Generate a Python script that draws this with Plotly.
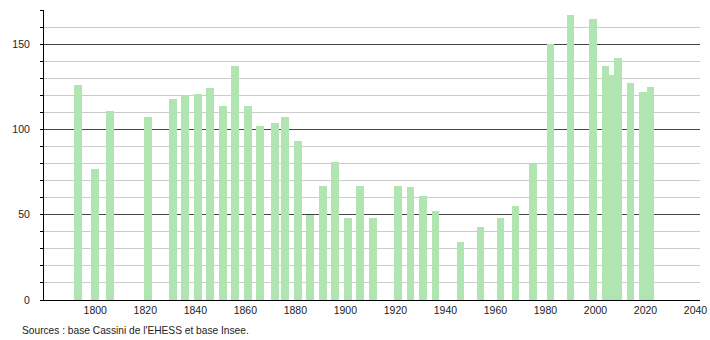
import plotly.graph_objects as go

years = [1793, 1800, 1806, 1821, 1831, 1836, 1841, 1846, 1851, 1856,
         1861, 1866, 1872, 1876, 1881, 1886, 1891, 1896, 1901, 1906,
         1911, 1921, 1926, 1931, 1936, 1946, 1954, 1962, 1968, 1975,
         1982, 1990, 1999, 2004, 2006, 2009, 2014, 2019, 2022]
population = [126, 77, 111, 107, 118, 120, 121, 124, 114, 137,
              114, 102, 104, 107, 93, 50, 67, 81, 48, 67,
              48, 67, 66, 61, 52, 34, 43, 48, 55, 80,
              150, 167, 165, 137, 132, 142, 127, 122, 125]
x_ticks = [1800, 1820, 1840, 1860, 1880, 1900, 1920, 1940, 1960, 1980, 2000, 2020, 2040]
y_ticks = [0, 50, 100, 150]
source_text = "Sources : base Cassini de l'EHESS et base Insee."

# shorter bars drawn first so taller neighbours sit on top
order = sorted(range(len(years)), key=lambda i: population[i])
xs = [years[i] for i in order]
ys = [population[i] for i in order]

fig = go.Figure(go.Bar(
    x=xs, y=ys, width=3.1,
    marker=dict(color="rgb(176,228,176)", line=dict(width=0)),
    hoverinfo="x+y",
))

font = "Liberation Sans, Arial, sans-serif"
fig.update_layout(
    width=710, height=340,
    margin=dict(l=44, r=10, t=10, b=40, autoexpand=False),
    paper_bgcolor="white", plot_bgcolor="white",
    showlegend=False,
    bargap=0,
    font=dict(family=font, size=10.5, color="#222"),
    xaxis=dict(
        range=[1779.5, 2041.8],
        tickvals=x_ticks,
        automargin=False,
        showgrid=False, zeroline=False,
        showline=True, linecolor="black", linewidth=1,
        ticks="", tickfont=dict(size=10.5, color="#222"),
    ),
    yaxis=dict(
        range=[0, 170],
        tickvals=y_ticks,
        automargin=False,
        showgrid=True, gridcolor="#444", gridwidth=1,
        zeroline=False,
        showline=True, linecolor="black", linewidth=1,
        ticks="outside", ticklen=3, tickcolor="black",
        ticklabelstandoff=8,
        tickfont=dict(size=10.5, color="#222"),
        minor=dict(dtick=10, showgrid=True, gridcolor="#cccccc", gridwidth=1,
                   ticks="outside", ticklen=3, tickcolor="black"),
    ),
    annotations=[dict(
        text=source_text, xref="paper", yref="paper",
        x=-24/656, y=-30/290, xanchor="left", yanchor="middle",
        showarrow=False, font=dict(family=font, size=10.2, color="#222"),
    )],
)

fig.write_html("out.html")
